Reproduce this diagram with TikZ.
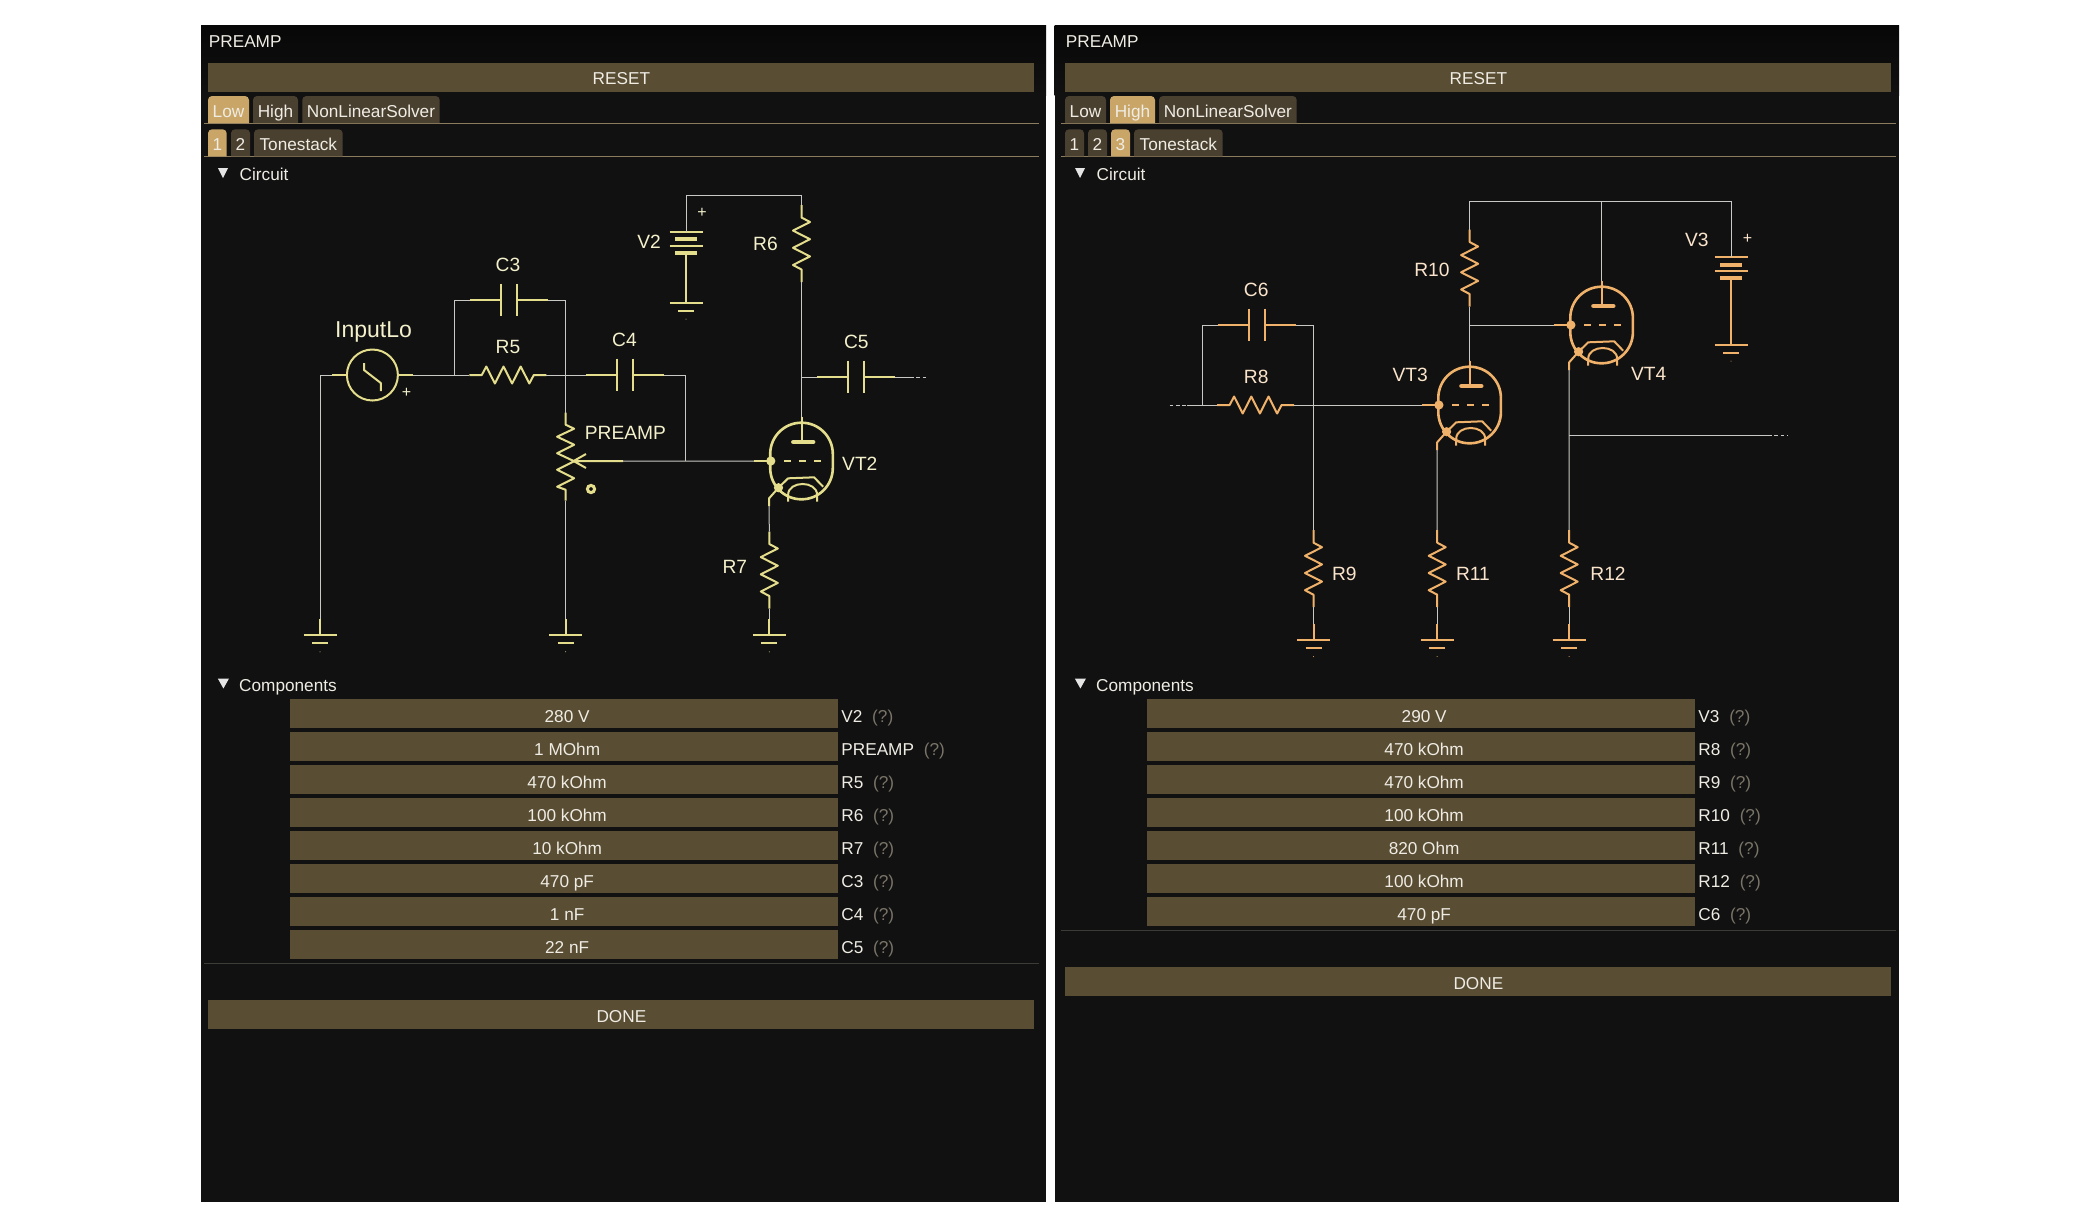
\documentclass[tikz,border=0pt]{standalone}
\usepackage{fontspec}
\setmainfont{Liberation Sans}
\usetikzlibrary{positioning}
\definecolor{panelbg}{HTML}{111111}
\definecolor{panelhd}{HTML}{070707}
\definecolor{barcol}{HTML}{594D33}
\definecolor{tabcol}{HTML}{4A4030}
\definecolor{tabhot}{HTML}{C9A668}
\definecolor{seplight}{HTML}{8C7C5E}
\definecolor{sepdim}{HTML}{3C3B36}
\definecolor{wirecol}{HTML}{C8C8C4}
\definecolor{ampyellow}{HTML}{E4DD8C}
\definecolor{amporange}{HTML}{F0B26A}
\definecolor{uitext}{HTML}{EFECE4}
\definecolor{helpcol}{HTML}{7A7568}
\tikzset{
  define coordinates/.style={
    execute at begin picture={
      % low stage
      \coordinate (posIn) at (372.4,375);
      \coordinate (posR5) at (507.8,375);
      \coordinate (posR6) at (801.5,243.5);
      \coordinate (posR7) at (769.3,570);
      \coordinate (posC3) at (508.8,300);
      \coordinate (posC4) at (624.8,375);
      \coordinate (posC5) at (856,377);
      \coordinate (posV2) at (686,231.6);
      \coordinate (posPot) at (565.6,456.7);
      \coordinate (posVT2) at (801.5,461);
      % high stage
      \coordinate (posR8) at (1255.6,405);
      \coordinate (posR9) at (1313.5,568.7);
      \coordinate (posR10) at (1469.6,268);
      \coordinate (posR11) at (1437.2,568.7);
      \coordinate (posR12) at (1569.2,568.7);
      \coordinate (posC6) at (1257,325);
      \coordinate (posV3) at (1731,257.3);
      \coordinate (posVT3) at (1469.6,405);
      \coordinate (posVT4) at (1601.6,325);
    }
  },
  every picture/.append style={define coordinates},
  wire/.style={draw=wirecol,line width=0.5pt},
  lead/.style={line width=1pt,line join=round},
  uibar/.style={fill=barcol,anchor=north west,inner sep=0pt,text=uitext,
    minimum height=14.4pt,text depth=0pt,font=\fontsize{8.6}{10}\selectfont},
  rowbar/.style={uibar,text height=8.2pt,minimum width=273.75pt,execute at begin node=\hspace*{3pt}},
  widebar/.style={uibar,text height=7.6pt,minimum width=413pt},
  uilabel/.style={text=uitext,inner sep=0pt,anchor=west,text height=6.2pt,text depth=0pt,
    font=\fontsize{8.6}{10}\selectfont},
  rowlabel/.style={uilabel,text height=8.6pt},
  helplabel/.style={rowlabel,text=helpcol},
  tablabel/.style={text=uitext,inner sep=0pt,text height=6.9pt,text depth=0pt,
    font=\fontsize{8.6}{10}\selectfont},
  complabel/.style={inner sep=0pt,yshift=-0.5pt,font=\fontsize{9.6}{11}\selectfont},
  pics/resistor/.style={code={
    \coordinate (-a) at (0,-38.5);
    \coordinate (-b) at (0,38.5);
    \draw[lead] (-a) -- (0,-26) -- (8.5,-21.5) -- (-8.5,-12.9) -- (8.5,-4.3) -- (-8.5,4.3)
      -- (8.5,12.9) -- (-8.5,21.5) -- (0,26) -- (-b);
  }},
  pics/capacitor/.style={code={
    \coordinate (-a) at (-39,0);
    \coordinate (-b) at (39,0);
    \draw[lead] (-a) -- (-8,0) (-8,-16.3) -- (-8,16.3);
    \draw[lead] (-b) -- (8,0) (8,-16.3) -- (8,16.3);
  }},
  pics/battery/.style={code={
    \coordinate (-a) at (0,0);
    \coordinate (-b) at (0,21);
    \draw[lead] (-16.5,0) -- (16.5,0) (-16.5,14) -- (16.5,14);
    \draw[line width=2pt] (-11,7.5) -- (11,7.5) (-11,21) -- (11,21);
  }},
  pics/earth/.style={code={
    \coordinate (-a) at (0,-16.5);
    \draw[lead] (-a) -- (0,0) (-16.5,0) -- (16.5,0);
    \draw[lead] (-8,8) -- (8,8);
    \fill (0,16.5) circle (0.5);
  }},
  pics/source/.style={code={
    \coordinate (-a) at (-40,0);
    \coordinate (-b) at (40.6,0);
    \draw[lead] (0,0) circle (25.5);
    \draw[lead] (-a) -- (-25.5,0) (-b) -- (25.5,0);
    \draw[lead] (-8.4,-12) -- (-8.4,-5) -- (8.4,8) -- (8.4,16);
  }},
  pics/wiperpot/.style={code={
    \coordinate (-a) at (0,-44);
    \coordinate (-b) at (0,44);
    \coordinate (-w) at (57.4,4.3);
    \draw[lead] (-a) -- (0,-32) -- (8.5,-28) -- (-8.5,-20) -- (8.5,-12) -- (-8.5,-3.5)
      -- (8.5,4.5) -- (-8.5,13) -- (8.5,21.5) -- (-8.5,30) -- (0,33) -- (-b);
    \draw[lead] (-w) -- (8,4.3) (20.4,-2.7) -- (8,4.3) -- (20.4,11.3);
    \draw[line width=1.5pt] (25.4,32.3) circle (3.6);
  }},
  pics/triode/.style={code={
    \coordinate (-a) at (0,-44.3);
    \coordinate (-g) at (-47.7,0);
    \coordinate (-k) at (-32.4,45);
    \draw[line width=1.3pt,rounded corners=15.6pt] (-31.3,-38.3) rectangle (31.3,38.3);
    \draw[lead] (-a) -- (0,-19);
    \draw[line width=2.4pt,line cap=round] (-8,-19) -- (11.5,-19);
    \draw[lead] (-g) -- (-30.7,0);
    \fill (-30.7,0) circle (4.6);
    \draw[lead,dash pattern=on 3.5pt off 4pt] (-17.7,0) -- (19,0);
    \fill (-23,26.7) circle (4.6);
    \draw[lead] (-k) -- (-32.4,37.3) -- (-23,26.7) -- (-13.4,17.3) -- (12.6,16.3) -- (21.6,25.7);
    \draw[lead] (-13.4,40.7) -- (-13.4,34) .. controls (-13.4,19.3) and (15.6,19.3) .. (15.6,34) -- (15.6,40.7);
  }}
}
\begin{document}
\begin{tikzpicture}[x=0.5pt,y=-0.5pt]
\useasboundingbox (0,0) rectangle (2100,1228);
\fill[white] (0,0) rectangle (2100,1228);

% Panels and their darker title strips
\fill[panelbg] (201,25) rectangle (1046,1201.5);
\fill[panelbg] (1054.7,25) rectangle (1899,1201.5);
\shade[top color=panelhd,bottom color=panelbg] (201,25) rectangle (1046,95);
\shade[top color=panelhd,bottom color=panelbg] (1054.7,25) rectangle (1899,95);

% What both panels share
\foreach \pnl/\dx in {L/0,R/857}{
  \begin{scope}[shift={(\dx,0)}]
    \node[uilabel] (title\pnl) at (208.5,41.3) {PREAMP};
    \node[widebar] (reset\pnl) at (208,62.3) {RESET};
    \draw[seplight,line width=0.5pt] (204,123.7) -- (1039,123.7);
    \draw[seplight,line width=0.5pt] (204,156.7) -- (1039,156.7);
    \fill[white!90!black] (218,168) -- (228,168) -- (223,178) -- cycle;
    \node[uilabel] (circuit\pnl) at (239.3,174) {Circuit};
    \fill[white!90!black] (217.8,678.5) -- (229,678.5) -- (223.4,688.5) -- cycle;
    \node[uilabel] (components\pnl) at (238.8,685.7) {Components};
  \end{scope}
}

% Tabs, left panel
\foreach \xa/\xb/\ya/\yb/\tabname/\tabtxt/\tabfill in {
  208/249/96/123/tabLowL/Low/tabhot,253/298/96/123/tabHighL/High/tabcol,
  302.3/439.7/96/123/tabSolverL/NonLinearSolver/tabcol,
  208/226.7/129.3/156.3/tabOneL/1/tabhot,231/250/129.3/156.3/tabTwoL/2/tabcol,
  254/342.7/129.3/156.3/tabToneL/Tonestack/tabcol}{
  \fill[\tabfill,rounded corners=2pt] (\xa,\yb) -- (\xa,\ya) -- (\xb,\ya) -- (\xb,\yb);
  \node[tablabel] (\tabname) at ({(\xa+\xb)/2},{\yb-12.5}) {\tabtxt};
}

% Tabs, right panel
\foreach \xa/\xb/\ya/\yb/\tabname/\tabtxt/\tabfill in {
  1065/1106/96/123/tabLowR/Low/tabcol,1110/1155/96/123/tabHighR/High/tabhot,
  1159/1296.7/96/123/tabSolverR/NonLinearSolver/tabcol,
  1065/1084/129.3/156.3/tabOneR/1/tabcol,1088/1107/129.3/156.3/tabTwoR/2/tabcol,
  1111/1130/129.3/156.3/tabThreeR/3/tabhot,1134/1222.7/129.3/156.3/tabToneR/Tonestack/tabcol}{
  \fill[\tabfill,rounded corners=2pt] (\xa,\yb) -- (\xa,\ya) -- (\xb,\ya) -- (\xb,\yb);
  \node[tablabel] (\tabname) at ({(\xa+\xb)/2},{\yb-12.5}) {\tabtxt};
}

% Component rows, left panel
\foreach \i/\val/\lab in {0/280 V/V2,1/1 MOhm/PREAMP,2/470 kOhm/R5,3/100 kOhm/R6,
  4/10 kOhm/R7,5/470 pF/C3,6/1 nF/C4,7/22 nF/C5}{
  \pgfmathsetmacro\ry{699+33*\i}
  \node[rowbar] (rowL\i) at (290,\ry) {\val};
  \node[rowlabel] (labL\i) at (841,\ry+14.5) {\lab};
  \node[helplabel,right=4.5pt of labL\i] (helpL\i) {(?)};
}
\draw[sepdim,line width=0.5pt] (204,963.3) -- (1039,963.3);
\node[widebar] (doneL) at (208,1000) {DONE};

% Component rows, right panel
\foreach \i/\val/\lab in {0/290 V/V3,1/470 kOhm/R8,2/470 kOhm/R9,3/100 kOhm/R10,
  4/820 Ohm/R11,5/100 kOhm/R12,6/470 pF/C6}{
  \pgfmathsetmacro\ry{699+33*\i}
  \node[rowbar] (rowR\i) at (1147,\ry) {\val};
  \node[rowlabel] (labR\i) at (1698,\ry+14.5) {\lab};
  \node[helplabel,right=4.5pt of labR\i] (helpR\i) {(?)};
}
\draw[sepdim,line width=0.5pt] (1061,930.3) -- (1896,930.3);
\node[widebar] (doneR) at (1065,967) {DONE};

% Low stage parts
\begin{scope}[color=ampyellow]
  \pic (In) at (posIn) {source};
  \pic[rotate=90] (R5) at (posR5) {resistor};
  \pic (R6) at (posR6) {resistor};
  \pic (R7) at (posR7) {resistor};
  \pic (C3) at (posC3) {capacitor};
  \pic (C4) at (posC4) {capacitor};
  \pic (C5) at (posC5) {capacitor};
  \pic (V2) at (posV2) {battery};
  \pic (Pot) at (posPot) {wiperpot};
  \pic (VT2) at (posVT2) {triode};
  \pic (gndIn) at (320,635.3) {earth};
  \pic (gndPot) at (565.6,635.3) {earth};
  \pic (gndR7) at (769.3,635.3) {earth};
  \pic (gndV2) at (686,302.7) {earth};
  \draw[lead] (V2-b) -- (gndV2-a);
\end{scope}

% Low stage wires
\coordinate (railL) at (686,195.5);
\coordinate (nodeA) at (454.5,375);
\coordinate (nodeB) at (685.5,461);
\coordinate (nodeC) at (801.5,377);
\coordinate (outL) at (910,377);
\coordinate (outLd) at (927,377);
\draw[wire] (In-a) -| (gndIn-a);
\draw[wire] (In-b) -- (R5-a);
\draw[wire] (nodeA) |- (C3-a);
\draw[wire] (C3-b) -| (Pot-a);
\draw[wire] (R5-b) -- (C4-a);
\draw[wire] (C4-b) -| (nodeB);
\draw[wire] (Pot-w) -- (VT2-g);
\draw[wire] (Pot-b) -- (gndPot-a);
\draw[wire] (V2-a) -- (railL) -| (R6-a);
\draw[wire] (R6-b) -- (VT2-a);
\draw[wire] (nodeC) -- (C5-a);
\draw[wire] (C5-b) -- (outL);
\draw[wire,dash pattern=on 1.8pt off 1.4pt] (outL) -- (outLd);
\draw[wire] (VT2-k) -- (R7-a);
\draw[wire] (R7-b) -- (gndR7-a);

% Low stage labels
\begin{scope}[text=ampyellow!45!white]
  \node[complabel,font=\fontsize{11.5}{13}\selectfont] (labIn) at (373.6,331) {InputLo};
  \node[complabel,font=\fontsize{8}{9}\selectfont] (plusIn) at (406.5,392.3) {+};
  \node[complabel,font=\fontsize{8}{9}\selectfont] (plusV2) at (702,211.7) {+};
  \node[complabel] (labV2) at (649,240.5) {V2};
  \node[complabel] (labR5) at (508,346) {R5};
  \node[complabel] (labR6) at (765.5,243) {R6};
  \node[complabel] (labR7) at (734.8,565.7) {R7};
  \node[complabel] (labC3) at (508,264) {C3};
  \node[complabel] (labC4) at (624.5,339.3) {C4};
  \node[complabel] (labC5) at (856.4,341.3) {C5};
  \node[complabel] (labPot) at (625.4,432.3) {PREAMP};
  \node[complabel] (labVT2) at (859.8,463) {VT2};
\end{scope}

% High stage parts
\begin{scope}[color=amporange]
  \pic[rotate=90] (R8) at (posR8) {resistor};
  \pic (R9) at (posR9) {resistor};
  \pic (R10) at (posR10) {resistor};
  \pic (R11) at (posR11) {resistor};
  \pic (R12) at (posR12) {resistor};
  \pic (C6) at (posC6) {capacitor};
  \pic (V3) at (posV3) {battery};
  \pic (VT3) at (posVT3) {triode};
  \pic (VT4) at (posVT4) {triode};
  \pic (gndR9) at (1313.5,640) {earth};
  \pic (gndR11) at (1437.2,640) {earth};
  \pic (gndR12) at (1569.2,640) {earth};
  \pic (gndV3) at (1731,344.7) {earth};
  \draw[lead] (V3-b) -- (gndV3-a);
\end{scope}

% High stage wires
\coordinate (railR) at (1469.6,201.7);
\coordinate (railRe) at (1731,201.7);
\coordinate (nodeD) at (1202.5,405);
\coordinate (nodeE) at (1469.6,325);
\coordinate (nodeF) at (1569.2,435.3);
\coordinate (inR) at (1187,405);
\coordinate (inRd) at (1169.5,405);
\coordinate (outR) at (1768,435.3);
\coordinate (outRd) at (1787.5,435.3);
\draw[wire] (R10-a) -- (railR) -- (railRe) -- (V3-a);
\draw[wire] (VT4-a) |- (railR);
\draw[wire] (R10-b) -- (VT3-a);
\draw[wire] (nodeE) -- (VT4-g);
\draw[wire,dash pattern=on 1.8pt off 1.4pt] (inRd) -- (inR);
\draw[wire] (inR) -- (R8-a);
\draw[wire] (R8-b) -- (VT3-g);
\draw[wire] (nodeD) |- (C6-a);
\draw[wire] (C6-b) -| (R9-a);
\draw[wire] (R9-b) -- (gndR9-a);
\draw[wire] (VT3-k) -- (R11-a);
\draw[wire] (R11-b) -- (gndR11-a);
\draw[wire] (VT4-k) -- (R12-a);
\draw[wire] (R12-b) -- (gndR12-a);
\draw[wire] (nodeF) -- (outR);
\draw[wire,dash pattern=on 1.8pt off 1.4pt] (outR) -- (outRd);

% High stage labels
\begin{scope}[text=amporange!35!white]
  \node[complabel,font=\fontsize{8}{9}\selectfont] (plusV3) at (1747.6,237.7) {+};
  \node[complabel] (labV3) at (1696.8,239.3) {V3};
  \node[complabel] (labR8) at (1256.2,376) {R8};
  \node[complabel] (labR9) at (1344.3,573.3) {R9};
  \node[complabel] (labR10) at (1431.9,269.3) {R10};
  \node[complabel] (labR11) at (1473,573.3) {R11};
  \node[complabel] (labR12) at (1608,572.5) {R12};
  \node[complabel] (labC6) at (1256.2,289) {C6};
  \node[complabel] (labVT3) at (1410.2,374.3) {VT3};
  \node[complabel] (labVT4) at (1648.7,372.7) {VT4};
\end{scope}

\end{tikzpicture}
\end{document}
